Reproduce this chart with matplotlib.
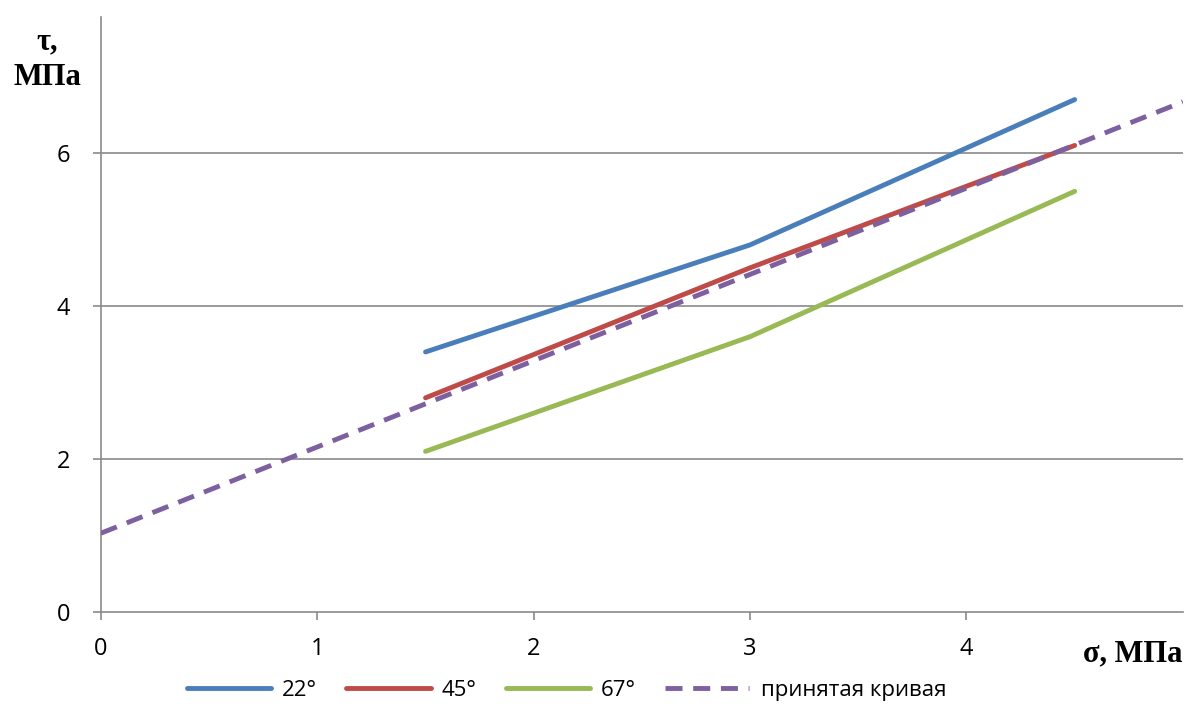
import matplotlib
matplotlib.use("Agg")
import matplotlib.pyplot as plt
import numpy as np

x_pts = [1.5, 3.0, 4.5]
s22 = [3.4, 4.8, 6.7]
s45 = [2.8, 4.5, 6.1]
s67 = [2.1, 3.6, 5.5]
acc_x = [0.0, 5.0]
acc_y = [1.03, 6.67]
labels = ["22°", "45°", "67°", "принятая кривая"]
colors = ["#4A7EBB", "#BE4B48", "#98B954", "#7D60A0"]

plt.rcParams['font.family'] = ['Open Sans', 'DejaVu Sans']

fig = plt.figure(figsize=(11.85, 7.07), dpi=100)
ax = fig.add_axes([0.0852, 0.1344, 0.913, 0.8416])
ax.set_xlim(0, 5)
ax.set_ylim(0, 7.78)

for yv in [2, 4, 6]:
    ax.axhline(yv, color="#8a8a8a", lw=1.2, zorder=1)

lw = 3.5
ax.plot(x_pts, s22, color=colors[0], lw=lw, label=labels[0], zorder=3, solid_capstyle="round")
ax.plot(x_pts, s45, color=colors[1], lw=lw, label=labels[1], zorder=3, solid_capstyle="round")
ax.plot(x_pts, s67, color=colors[2], lw=lw, label=labels[2], zorder=3, solid_capstyle="round")
ax.plot(acc_x, acc_y, color=colors[3], lw=lw, ls=(0, (3.5, 2.2)), label=labels[3], zorder=4)

for s in ["top", "right"]:
    ax.spines[s].set_visible(False)
for s in ["left", "bottom"]:
    ax.spines[s].set_color("#8a8a8a")
    ax.spines[s].set_linewidth(1.2)

ax.set_xticks([0, 1, 2, 3, 4])
ax.set_yticks([0, 2, 4, 6])
ax.tick_params(axis="both", colors="#8a8a8a", length=6, width=1.2, labelcolor="black", labelsize=17)
ax.tick_params(axis="x", pad=12)
ax.tick_params(axis="y", pad=16)

fig.text(0.040, 0.915, "τ,\nМПа", fontfamily="Liberation Serif", fontweight="bold",
         fontsize=22, ha="center", va="center", linespacing=1.3)
fig.text(0.998, 0.075, "σ, МПа", fontfamily="Liberation Serif", fontweight="bold",
         fontsize=22, ha="right", va="center")

leg = fig.legend(loc="center", bbox_to_anchor=(0.478, 0.024), ncol=4, frameon=False,
                 fontsize=16, handlelength=3.8, columnspacing=1.3, handletextpad=0.5)

fig.savefig("out.png", dpi=100)
